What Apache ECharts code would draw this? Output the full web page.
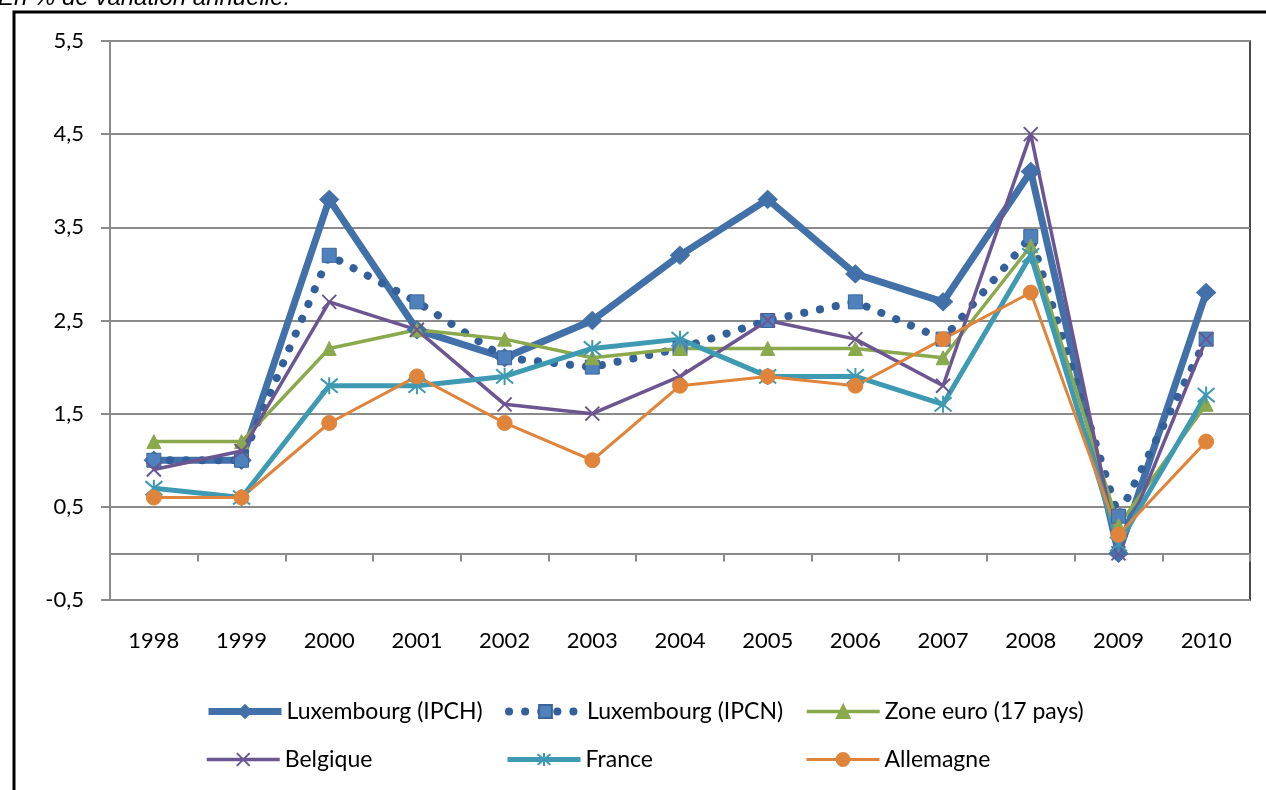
<!DOCTYPE html>
<html>
<head>
<meta charset="utf-8">
<script src="https://cdn.jsdelivr.net/npm/echarts@6/dist/echarts.min.js"></script>
<style>
  html, body { margin: 0; padding: 0; background: #fff; }
  #chart { width: 1266px; height: 790px; }
</style>
</head>
<body>
<div id="chart"></div>
<script>
// années
var years = ['1998', '1999', '2000', '2001', '2002', '2003', '2004', '2005', '2006', '2007', '2008', '2009', '2010'];

// séries (en % de variation annuelle)
var luxIPCH = [1.0, 1.0, 3.8, 2.4, 2.1, 2.5, 3.2, 3.8, 3.0, 2.7, 4.1, 0.0, 2.8];
var luxIPCN = [1.0, 1.0, 3.2, 2.7, 2.1, 2.0, 2.2, 2.5, 2.7, 2.3, 3.4, 0.4, 2.3];
var zoneEuro = [1.2, 1.2, 2.2, 2.4, 2.3, 2.1, 2.2, 2.2, 2.2, 2.1, 3.3, 0.3, 1.6];
var belgique = [0.9, 1.1, 2.7, 2.4, 1.6, 1.5, 1.9, 2.5, 2.3, 1.8, 4.5, 0.0, 2.3];
var france = [0.7, 0.6, 1.8, 1.8, 1.9, 2.2, 2.3, 1.9, 1.9, 1.6, 3.2, 0.1, 1.7];
var allemagne = [0.6, 0.6, 1.4, 1.9, 1.4, 1.0, 1.8, 1.9, 1.8, 2.3, 2.8, 0.2, 1.2];

// graduations de l'axe vertical
var yMin = -0.5, yMax = 5.5, yStep = 1;

var font = 'Lato';
var myChart = echarts.init(document.getElementById('chart'));

var crossPath = 'path://M0,0L12,12M12,0L0,12';
var starPath = 'path://M0,1L12,11M12,1L0,11M6,0L6,12';

// une légende par élément, placée comme dans l'original (3 colonnes, 2 lignes)
var legendPos = [
  ['Luxembourg (IPCH)', 205, 700], ['Luxembourg (IPCN)', 505, 700], ['Zone euro (17 pays)', 805, 700],
  ['Belgique', 205, 748], ['France', 505, 748], ['Allemagne', 805, 748]
];
var legends = legendPos.map(function (p) {
  return {
    data: [p[0]], left: p[1], top: p[2], padding: 0,
    itemWidth: 73, itemHeight: 16,
    lineStyle: { width: 'inherit' },
    textStyle: { fontFamily: font, fontSize: 23, color: '#000' }
  };
});

var option = {
  animation: false,
  graphic: [
    {
      type: 'text', left: -2, top: -14,
      style: { text: 'En % de variation annuelle.', font: 'italic 24px "Liberation Sans"', fill: '#000' }
    },
    {
      type: 'rect', shape: { x: 14, y: 12, width: 1300, height: 800 },
      style: { fill: 'none', stroke: '#000', lineWidth: 3 }
    }
  ],
  grid: {
    left: 110, right: 16, top: 41, bottom: 190,
    show: true, borderColor: '#111', borderWidth: 1.5, backgroundColor: 'transparent'
  },
  legend: legends,
  xAxis: [
    {
      type: 'category', data: years, boundaryGap: true,
      axisLine: { onZero: true, lineStyle: { color: '#8a8a8a', width: 2 } },
      axisTick: { show: true, length: 8, lineStyle: { color: '#8a8a8a', width: 2 } },
      axisLabel: { show: false }
    },
    {
      type: 'category', data: years, boundaryGap: true, position: 'bottom',
      axisLine: { show: false }, axisTick: { show: false },
      axisLabel: { margin: 30, fontFamily: font, fontSize: 22, color: '#000' }
    }
  ],
  yAxis: {
    type: 'value', min: yMin, max: yMax, interval: yStep,
    axisLine: { show: true, lineStyle: { color: '#8a8a8a', width: 2 } },
    axisTick: { show: true, length: 9, lineStyle: { color: '#8a8a8a', width: 2 } },
    splitLine: { lineStyle: { color: '#8a8a8a', width: 2 } },
    axisLabel: {
      margin: 26, fontFamily: font, fontSize: 22, color: '#000',
      formatter: function (v) { return String(Math.round(v * 10) / 10).replace('.', ','); }
    }
  },
  series: [
    {
      name: 'Luxembourg (IPCH)', type: 'line', data: luxIPCH,
      symbol: 'diamond', symbolSize: [19, 18],
      lineStyle: { color: '#4270a8', width: 7 },
      itemStyle: { color: '#4270a8', borderColor: '#4270a8', borderWidth: 1 },
      emphasis: { disabled: true }
    },
    {
      name: 'Luxembourg (IPCN)', type: 'line', data: luxIPCN,
      symbol: 'rect', symbolSize: 14,
      lineStyle: { color: '#33609a', width: 8, type: [0.1, 16], cap: 'round' },
      itemStyle: { color: '#4f81bd', borderColor: '#3a6598', borderWidth: 1 },
      emphasis: { disabled: true }
    },
    {
      name: 'Zone euro (17 pays)', type: 'line', data: zoneEuro,
      symbol: 'triangle', symbolSize: 14,
      lineStyle: { color: '#8aa84c', width: 3.5 },
      itemStyle: { color: '#8aa84c', borderColor: '#8aa84c', borderWidth: 1 },
      emphasis: { disabled: true }
    },
    {
      name: 'Belgique', type: 'line', data: belgique,
      symbol: crossPath, symbolSize: 14, symbolKeepAspect: true,
      lineStyle: { color: '#6b5692', width: 3.5 },
      itemStyle: { color: '#6b5692', borderColor: '#6b5692', borderWidth: 2 },
      emphasis: { disabled: true }
    },
    {
      name: 'France', type: 'line', data: france,
      symbol: starPath, symbolSize: 17, symbolKeepAspect: true,
      lineStyle: { color: '#3e9ab2', width: 5 },
      itemStyle: { color: '#3e9ab2', borderColor: '#3e9ab2', borderWidth: 2 },
      emphasis: { disabled: true }
    },
    {
      name: 'Allemagne', type: 'line', data: allemagne,
      symbol: 'circle', symbolSize: 15,
      lineStyle: { color: '#e0843b', width: 3 },
      itemStyle: { color: '#e0843b', borderColor: '#e0843b', borderWidth: 1 },
      emphasis: { disabled: true }
    }
  ]
};

myChart.setOption(option);
window.addEventListener('resize', function () { myChart.resize(); });
</script>
</body>
</html>
